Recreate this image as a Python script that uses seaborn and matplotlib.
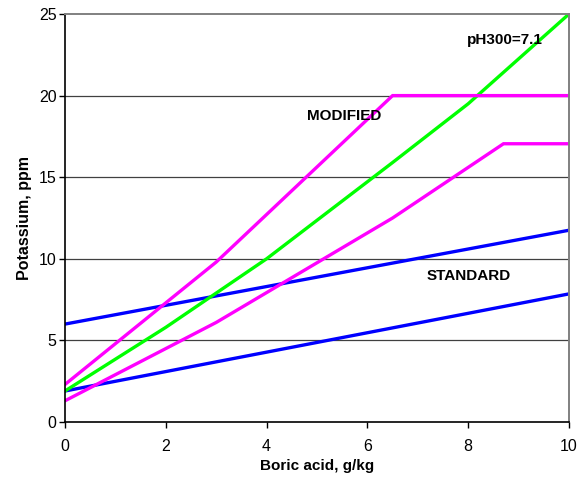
import matplotlib
matplotlib.use("Agg")
import matplotlib.pyplot as plt
import seaborn as sns
import pandas as pd

sns.set_theme(style="white")
plt.rcParams['font.family'] = ['Liberation Sans', 'DejaVu Sans']
plt.rcParams['text.color'] = 'black'
plt.rcParams['axes.labelcolor'] = 'black'
plt.rcParams['xtick.color'] = 'black'
plt.rcParams['ytick.color'] = 'black'

# Data
ph_x = [0, 2, 4, 6.5, 8, 10]
ph_y = [1.9, 5.8, 10.0, 15.9, 19.5, 25.0]

mod_hi_x = [0, 3, 6.5, 10]
mod_hi_y = [2.3, 9.8, 20.0, 20.0]

mod_lo_x = [0, 3, 6.5, 8.7, 10]
mod_lo_y = [1.3, 6.1, 12.5, 17.05, 17.05]

std_hi_x = [0, 10]
std_hi_y = [6.0, 11.75]

std_lo_x = [0, 10]
std_lo_y = [1.9, 7.85]

x_ticks = [0, 2, 4, 6, 8, 10]
y_ticks = [0, 5, 10, 15, 20, 25]

fig = plt.figure(figsize=(5.87, 4.84), dpi=100)
ax = fig.add_axes([65/587, 1-422/484, (569-65)/587, (422-14)/484])

series = [
    (std_hi_x, std_hi_y, "#0000FF"),
    (std_lo_x, std_lo_y, "#0000FF"),
    (mod_lo_x, mod_lo_y, "#FF00FF"),
    (ph_x, ph_y, "#00FF00"),
    (mod_hi_x, mod_hi_y, "#FF00FF"),
]
for xs, ys, c in series:
    df = pd.DataFrame({"x": xs, "y": ys})
    sns.lineplot(data=df, x="x", y="y", ax=ax, color=c, linewidth=2.4,
                 legend=False, sort=False, estimator=None, solid_joinstyle="miter")

ax.set_xlim(0, 10)
ax.set_ylim(0, 25)
ax.set_xticks(x_ticks)
ax.set_yticks(y_ticks)
ax.set_xticklabels([str(t) for t in x_ticks])
ax.set_yticklabels([str(t) for t in y_ticks])
ax.tick_params(axis="both", labelsize=11.5, length=4, width=1, color="black",
               labelcolor="black", direction="out", bottom=True, left=True)
ax.tick_params(axis="y", pad=2)
ax.tick_params(axis="x", pad=8)

for y in [5, 10, 15, 20]:
    ax.axhline(y, color="#404040", linewidth=0.9, zorder=0)

for side in ["left", "bottom"]:
    ax.spines[side].set_color("black")
    ax.spines[side].set_linewidth(1.2)
for side in ["top", "right"]:
    ax.spines[side].set_color("#808080")
    ax.spines[side].set_linewidth(1.4)

ax.set_xlabel("Boric acid, g/kg", fontsize=11, fontweight="bold", labelpad=4, color="black")
ax.set_ylabel("Potassium, ppm", fontsize=11.5, fontweight="bold", labelpad=5, color="black")

ax.text(8.73, 23.4, "pH300=7.1", fontsize=11, fontweight="bold", ha="center", va="center", color="black")
ax.text(5.53, 18.75, "MODIFIED", fontsize=11, fontweight="bold", ha="center", va="center", color="black")
ax.text(8.02, 8.97, "STANDARD", fontsize=11, fontweight="bold", ha="center", va="center", color="black")

fig.savefig("out.png", dpi=100)
